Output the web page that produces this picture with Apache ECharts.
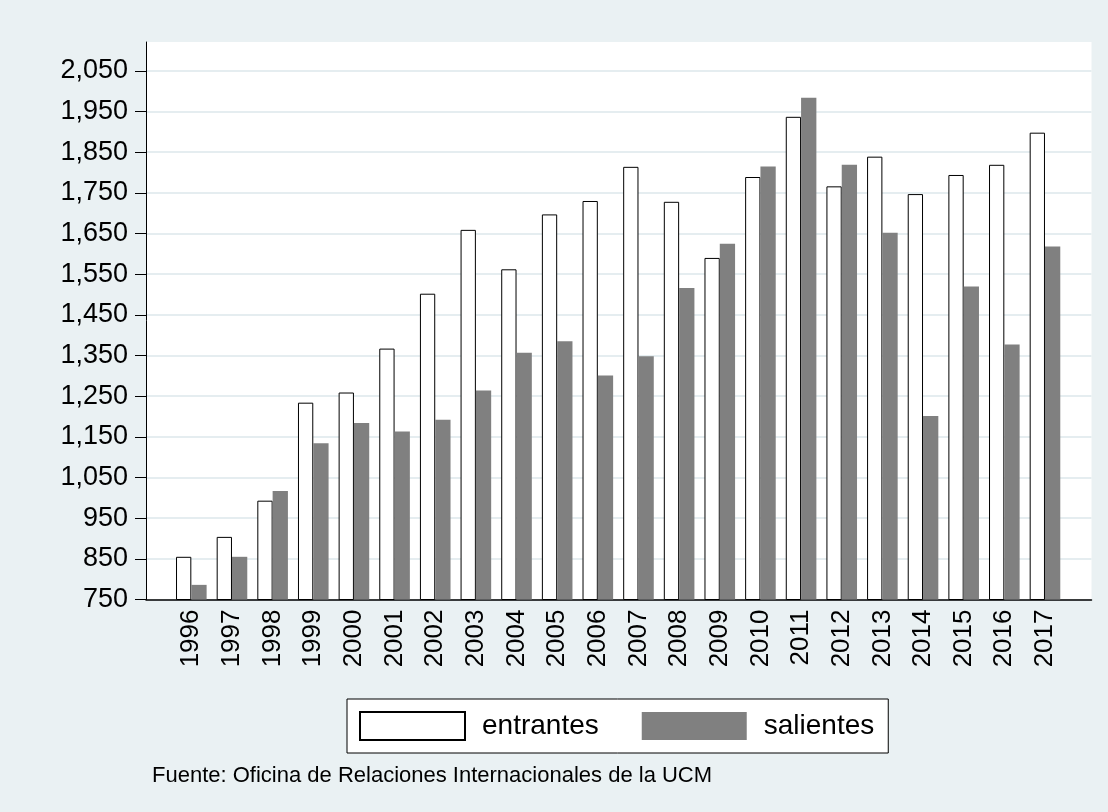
<!DOCTYPE html>
<html>
<head>
<meta charset="utf-8">
<script src="https://cdn.jsdelivr.net/npm/echarts/dist/echarts.min.js"></script>
<style>
html,body{margin:0;padding:0;background:#eaf1f3;}
#chart{width:1108px;height:812px;}
</style>
</head>
<body>
<div id="chart"></div>
<script>
// ---- data ----
var years = ['1996','1997','1998','1999','2000','2001','2002','2003','2004','2005','2006','2007','2008','2009','2010','2011','2012','2013','2014','2015','2016','2017'];
var entrantes = [855, 904, 993, 1234, 1259, 1367, 1502, 1659, 1562, 1697, 1730, 1814, 1728, 1590, 1789, 1937, 1766, 1839, 1747, 1794, 1819, 1898];
var salientes = [786, 855, 1017, 1134, 1184, 1163, 1192, 1264, 1357, 1385, 1301, 1348, 1516, 1625, 1815, 1984, 1819, 1652, 1201, 1520, 1377, 1618];
var yTicks = [750, 850, 950, 1050, 1150, 1250, 1350, 1450, 1550, 1650, 1750, 1850, 1950, 2050];
var seriesNames = ['entrantes', 'salientes'];
var sourceNote = 'Fuente: Oficina de Relaciones Internacionales de la UCM';

var FONT = '"Liberation Sans", Arial, sans-serif';
var Y_MIN = 750, Y_MAX = 2121;

var chart = echarts.init(document.getElementById('chart'), null, {renderer: 'canvas'});
chart.setOption({
  backgroundColor: '#eaf1f3',
  animation: false,
  grid: [
    {left: 146, right: 16.5, top: 42, bottom: 212.5, show: true, backgroundColor: '#ffffff', borderWidth: 0, outerBoundsMode: 'none'},
    {left: 171, right: 42.7, top: 42, bottom: 212.5, outerBoundsMode: 'none'}
  ],
  xAxis: [
    {type: 'value', gridIndex: 0, min: 0, max: 1,
     axisLine: {show: true, lineStyle: {color: '#000', width: 1.5}},
     axisTick: {show: false}, axisLabel: {show: false}, splitLine: {show: false}},
    {type: 'category', gridIndex: 1, data: years, boundaryGap: true,
     axisLine: {show: false}, axisTick: {show: false}, splitLine: {show: false},
     axisLabel: {rotate: 90, margin: 10, fontSize: 26, color: '#000', fontFamily: FONT, interval: 0}}
  ],
  yAxis: [
    {type: 'value', gridIndex: 0, min: Y_MIN, max: Y_MAX,
     axisLine: {show: true, lineStyle: {color: '#000', width: 1}},
     axisTick: {show: true, length: 11, customValues: yTicks, lineStyle: {color: '#000', width: 1}},
     axisLabel: {show: true, customValues: yTicks, margin: 18, fontSize: 27, color: '#000', fontFamily: FONT,
       formatter: function (v) { return Number(v).toLocaleString('en-US'); }},
     splitLine: {show: true, lineStyle: {color: '#e5edf0', width: 2}}},
    {type: 'value', gridIndex: 1, min: Y_MIN, max: Y_MAX, show: false, splitLine: {show: false}}
  ],
  legend: {
    data: seriesNames,
    left: 347, top: 699,
    orient: 'horizontal',
    padding: [12, 14, 12, 12],
    itemWidth: 105, itemHeight: 28, itemGap: 43,
    icon: 'rect',
    backgroundColor: '#ffffff', borderColor: '#000', borderWidth: 1,
    textStyle: {fontSize: 28, color: '#000', fontFamily: FONT, padding: [0, 0, 0, 12]},
    selectedMode: false
  },
  graphic: [
    {type: 'text', left: 152, top: 765, style: {text: sourceNote, fontSize: 22, fill: '#000', fontFamily: FONT}}
  ],
  series: [
    {name: seriesNames[0], type: 'bar', xAxisIndex: 1, yAxisIndex: 1, data: entrantes,
     barWidth: 15.3, barGap: '0%',
     itemStyle: {color: '#ffffff', borderColor: '#000', borderWidth: 1}},
    {name: seriesNames[1], type: 'bar', xAxisIndex: 1, yAxisIndex: 1, data: salientes,
     barWidth: 15.3, barGap: '0%',
     itemStyle: {color: '#808080'}}
  ]
});
</script>
</body>
</html>
